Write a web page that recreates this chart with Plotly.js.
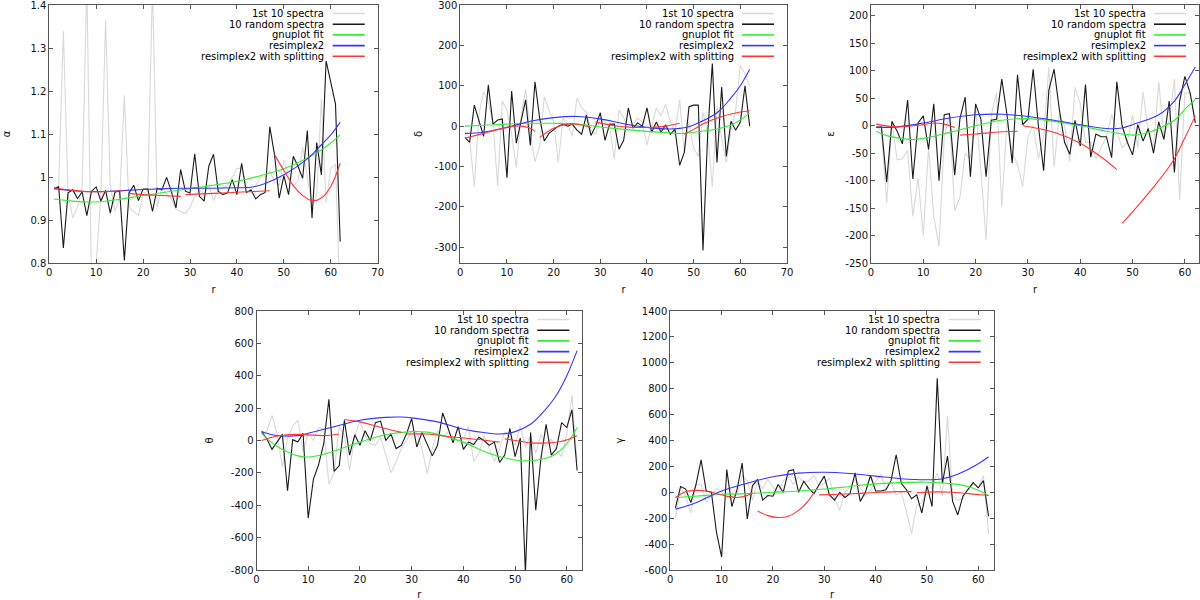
<!DOCTYPE html>
<html>
<head>
<meta charset="utf-8">
<script src="https://cdn.plot.ly/plotly-3.0.1.min.js"></script>
<style>html,body{margin:0;padding:0;background:#fff;}#chart{width:1200px;height:600px;}</style>
</head>
<body>
<div id="chart"></div>
<script>
// ---------------- data ----------------
const R = [1,2,3,4,5,6,7,8,9,10,11,12,13,14,15,16,17,18,19,20,21,22,23,24,25,26,27,28,29,30,31,32,33,34,35,36,37,38,39,40,41,42,43,44,45,46,47,48,49,50,51,52,53,54,55,56,57,58,59,60,61,62];
const legendLabels = ['1st 10 spectra', '10 random spectra', 'gnuplot fit', 'resimplex2', 'resimplex2 with splitting'];
const yTitles = ['α', 'δ', 'ε', 'θ', 'γ'];
const xTitle = 'r';

// alpha
const alphaFirst = [0.97,0.98,1.34,0.96,0.905,0.93,0.975,1.45,0.75,0.80,0.96,1.365,0.98,0.92,0.95,1.19,0.93,0.92,0.91,0.96,0.97,1.45,0.93,0.975,0.96,0.95,0.925,0.92,0.915,0.93,0.955,0.97,0.96,0.98,0.945,0.97,0.975,0.98,1.0,1.02,1.02,0.98,0.97,0.98,1.0,1.0,1.015,0.99,0.98,1.04,1.0,0.98,0.99,1.07,1.0,0.93,0.96,1.18,0.94,1.02,1.03,0.70];
const alphaRandom = [0.973,0.977,0.835,0.963,0.970,0.950,0.965,0.910,0.967,0.977,0.944,0.969,0.916,0.965,0.967,0.806,0.963,0.981,0.945,0.972,0.972,0.920,0.974,0.970,0.999,0.967,0.928,1.017,0.967,0.963,1.054,0.955,0.944,1.025,1.053,0.967,0.959,0.963,0.994,0.959,1.032,0.964,0.970,0.949,0.959,0.964,1.117,1.052,0.951,1.003,0.959,1.048,1.025,0.997,1.108,0.905,1.080,1.005,1.270,1.220,1.170,0.850];
const alphaFitR = [1,5,10,15,20,25,30,35,40,45,50,55,58,60,62];
const alphaFit = [0.949,0.944,0.942,0.948,0.957,0.965,0.973,0.981,0.990,1.003,1.019,1.044,1.063,1.079,1.098];
const alphaBlueR = [1,5,10,15,20,25,30,35,40,43,46,50,55,58,60,62];
const alphaBlue = [0.973,0.968,0.966,0.968,0.971,0.973,0.974,0.974,0.975,0.976,0.985,1.005,1.042,1.075,1.098,1.127];
const alphaRedR = [1,4,8,12,16,null,17,20,24,28,null,29,35,41,47,null,48,50,52,54,56,58,60,62];
const alphaRed = [0.975,0.970,0.966,0.966,0.968,null,0.962,0.959,0.957,0.955,null,0.959,0.962,0.965,0.968,null,1.052,1.015,0.980,0.957,0.945,0.951,0.978,1.032];

// delta
const deltaFirst = [-20,-30,-150,30,85,60,10,-148,62,40,-20,-103,20,92,-20,-88,-50,73,40,10,-90,20,5,-25,70,45,35,-10,-20,20,10,0,-82,40,20,0,5,20,10,-47,0,45,25,55,10,-15,65,-65,10,-55,-75,35,-20,-150,50,-30,-90,-10,40,150,130,100];
const deltaRandom = [-28,-40,52,15,-25,102,5,15,18,-128,87,-42,15,65,-48,110,20,-37,-18,-10,0,5,0,5,-10,-20,27,-23,0,33,-35,5,5,-57,-35,45,-5,8,0,45,-15,10,-15,3,-20,-8,-97,-65,48,52,52,-308,-20,155,-90,97,-75,12,-10,10,100,0];
const deltaFitR = [1,5,10,15,20,25,30,35,40,45,48,50,55,58,60,62];
const deltaFit = [0,2,5,7,7,5,-2,-8,-13,-17,-18,-15,-7,3,15,33];
const deltaBlueR = [1,5,10,15,20,25,30,35,40,45,48,50,55,58,60,62];
const deltaBlue = [-18,-15,-3,12,21,24,18,6,-3,-7,-4,3,33,70,100,140];
const deltaRedR = [1,5,10,13,15,16,null,17,20,23,26,28,null,29,33,37,41,44,47,null,48,50,52,55,58,60,62];
const deltaRed = [-30,-18,-3,0,-5,-13,null,-28,-5,5,3,-4,null,10,1,-3,-3,0,7,null,-20,-8,5,20,30,35,38];

// epsilon
const epsFirst = [0,-10,-140,5,-62,-60,-45,-165,-95,-200,-40,-165,-220,-20,20,-155,-130,-50,-60,30,-80,-208,20,60,-148,10,-50,-70,-110,-20,0,-60,-20,107,-75,20,0,-65,70,40,-30,-30,-60,-40,-20,20,-10,-40,-30,20,-40,62,-10,-40,80,-20,10,85,-135,60,60,10];
const epsRandom = [-3,-2,-103,8,-10,-33,47,-97,5,18,-43,40,-100,20,22,-90,13,52,-93,40,12,-93,10,12,85,20,-68,93,2,12,103,0,-82,65,103,30,-30,-52,10,-37,75,-57,-15,-20,-20,-58,80,0,-30,-53,2,-28,-5,-50,7,-25,45,-85,45,90,60,5];
const epsFitR = [1,3,5,8,10,15,20,25,30,35,40,45,50,52,55,58,60,62];
const epsFit = [-10,-18,-22,-25,-23,-12,0,10,13,8,0,-10,-17,-15,-5,10,30,48];
const epsBlueR = [1,5,10,15,20,25,30,35,40,45,48,50,55,58,60,62];
const epsBlue = [-3,-2,5,14,20,21,17,10,2,-5,-4,2,20,45,75,107];
const epsRedR = [1,5,10,12,14,16,null,17,20,25,28,null,29,32,35,40,44,47,null,48,51,55,58,60,62];
const epsRed = [3,-2,2,5,3,-3,null,-17,-15,-11,-10,null,0,-5,-12,-32,-57,-80,null,-178,-146,-100,-60,-22,18];

// theta
const thetaFirst = [40,60,155,40,-165,10,90,125,-70,45,0,80,70,-270,-200,90,30,-185,30,120,30,-20,-30,20,-90,-200,-130,-50,0,60,50,-50,-205,-50,60,20,50,20,0,10,90,-130,-80,30,-50,-130,-50,50,20,-30,90,-40,30,-80,40,-40,10,-60,-100,40,280,-130];
const thetaRandom = [55,10,-55,-10,38,-310,5,-10,45,-480,-240,-150,-20,255,-190,-155,125,-90,35,-30,60,0,110,120,0,40,-50,-30,40,135,-40,50,-20,-95,-30,170,80,-15,85,-55,-10,-25,20,0,-30,-10,-135,-90,75,-100,15,-820,50,-430,-110,100,-90,-50,110,80,190,-185];
const thetaFitR = [1,3,5,8,10,13,16,20,25,30,33,36,40,45,50,53,56,58,60,62];
const thetaFit = [45,-15,-55,-95,-102,-85,-55,-10,35,55,52,30,-10,-80,-120,-125,-110,-80,-20,80];
const thetaBlueR = [1,3,5,8,10,15,20,25,28,30,35,40,45,47,50,53,55,58,60,62];
const thetaBlue = [55,35,28,30,45,85,125,143,145,140,115,70,45,40,55,100,160,280,400,555];
const thetaRedR = [1,3,5,8,10,13,16,null,17,20,23,26,28,null,29,33,37,40,44,47,null,48,50,53,56,59,62];
const thetaRed = [0,20,32,38,35,30,40,null,130,115,90,65,50,null,40,40,25,15,2,-10,null,10,0,-15,-15,-5,30];

// gamma
const gammaFirst = [-200,40,-30,-160,60,60,-80,-20,30,0,-40,-30,-20,130,90,-60,80,30,100,40,0,90,120,60,120,80,90,130,50,70,110,-50,-140,0,40,100,30,-30,20,80,140,20,80,-20,0,-150,-320,-100,-80,40,30,150,-30,590,-30,-60,-50,20,60,40,130,-320];
const gammaRandom = [-120,45,25,-80,60,250,10,0,-310,-500,175,-110,20,225,-205,50,100,-60,-25,-30,60,0,165,175,0,85,30,-10,60,125,-20,-60,0,-40,-10,150,-70,0,130,10,10,20,90,290,70,20,-50,-20,-160,50,-110,880,70,280,-70,-175,-30,20,75,35,90,-185];
const gammaFitR = [1,5,10,15,20,25,30,35,40,45,50,55,58,60,62];
const gammaFit = [-40,-30,-15,-10,0,10,25,45,65,75,78,65,45,15,-25];
const gammaBlueR = [1,5,10,15,20,25,30,35,40,45,50,53,56,60,62];
const gammaBlue = [-130,-80,10,70,120,148,155,145,125,105,97,105,140,220,275];
const gammaRedR = [1,3,5,7,9,11,13,15,16,null,17,19,21,23,25,27,28,null,29,33,37,41,44,47,null,48,52,55,58,62];
const gammaRed = [-40,5,15,10,-10,-30,-40,-25,0,null,-145,-180,-195,-185,-140,-60,0,null,-20,-15,-8,0,5,5,null,-3,3,0,-10,-25];

// ---------------- layout / style ----------------
const panels = [
  {px: [49.3, 377.7], py: [5, 263],   xr: [0, 70],   yr: [0.8, 1.4], ytv: [0.8,0.9,1,1.1,1.2,1.3,1.4], ytt: ['0.8','0.9','1','1.1','1.2','1.3','1.4'], xtv: [0,10,20,30,40,50,60,70], ysd: 17,
   d: [alphaFirst, alphaRandom, [alphaFitR, alphaFit], [alphaBlueR, alphaBlue], [alphaRedR, alphaRed]]},
  {px: [460.3, 787], py: [5, 263],    xr: [0, 70],   yr: [-339, 300], ytv: [-300,-200,-100,0,100,200,300], ytt: ['-300','-200','-100','0','100','200','300'], xtv: [0,10,20,30,40,50,60,70], ysd: 10,
   d: [deltaFirst, deltaRandom, [deltaFitR, deltaFit], [deltaBlueR, deltaBlue], [deltaRedR, deltaRed]]},
  {px: [871, 1199], py: [5, 263],     xr: [0, 62.7], yr: [-250, 220], ytv: [-250,-200,-150,-100,-50,0,50,100,150,200], ytt: ['-250','-200','-150','-100','-50','0','50','100','150','200'], xtv: [0,10,20,30,40,50,60], ysd: 8,
   d: [epsFirst, epsRandom, [epsFitR, epsFit], [epsBlueR, epsBlue], [epsRedR, epsRed]]},
  {px: [256.5, 582.3], py: [311, 570], xr: [0, 63],  yr: [-800, 800], ytv: [-800,-600,-400,-200,0,200,400,600,800], ytt: ['-800','-600','-400','-200','0','200','400','600','800'], xtv: [0,10,20,30,40,50,60], ysd: 15,
   d: [thetaFirst, thetaRandom, [thetaFitR, thetaFit], [thetaBlueR, thetaBlue], [thetaRedR, thetaRed]]},
  {px: [670.3, 993.7], py: [311, 570], xr: [0, 63],  yr: [-600, 1400], ytv: [-600,-400,-200,0,200,400,600,800,1000,1200,1400], ytt: ['-600','-400','-200','0','200','400','600','800','1000','1200','1400'], xtv: [0,10,20,30,40,50,60], ysd: 16,
   d: [gammaFirst, gammaRandom, [gammaFitR, gammaFit], [gammaBlueR, gammaBlue], [gammaRedR, gammaRed]]}
];
const colors = ['#d9d9d9', '#1a1a1a', '#33ee33', '#3535ff', '#ff3535'];
const W = 1200, H = 600;
const FONT = 'DejaVu Sans, sans-serif';

const traces = [];
const layout = {
  width: W, height: H, margin: {l: 0, r: 0, t: 0, b: 0},
  paper_bgcolor: '#fff', plot_bgcolor: '#fff', showlegend: false,
  font: {family: FONT, size: 10, color: '#000'},
  annotations: [], shapes: []
};

panels.forEach((p, i) => {
  const n = i === 0 ? '' : String(i + 1);
  const xa = 'x' + n, ya = 'y' + n;
  p.d.forEach((s, k) => {
    let xs, ys;
    if (k < 2) { xs = R; ys = s; } else { xs = s[0]; ys = s[1]; }
    traces.push({
      x: xs, y: ys, xaxis: xa, yaxis: ya, type: 'scatter', mode: 'lines',
      name: legendLabels[k], connectgaps: false, hoverinfo: 'skip',
      line: {color: colors[k], width: 1.1, shape: k < 2 ? 'linear' : 'spline', smoothing: 1}
    });
  });
  const axCommon = {
    showgrid: false, zeroline: false, showline: true, linecolor: '#555', linewidth: 1,
    mirror: 'ticks', ticks: 'inside', ticklen: 4, tickcolor: '#555',
    ticklabeloverflow: 'allow',
    tickfont: {family: FONT, size: 10, color: '#111'}, fixedrange: true
  };
  layout['xaxis' + n] = Object.assign({}, axCommon, {
    domain: [p.px[0] / W, p.px[1] / W], anchor: ya, range: p.xr,
    tickmode: 'array', tickvals: p.xtv, ticktext: p.xtv.map(String),
    title: {text: xTitle, font: {family: FONT, size: 10, color: '#111'}, standoff: 8}
  });
  layout['yaxis' + n] = Object.assign({}, axCommon, {
    domain: [1 - p.py[1] / H, 1 - p.py[0] / H], anchor: xa, range: p.yr,
    tickmode: 'array', tickvals: p.ytv, ticktext: p.ytt,
    title: {text: yTitles[i], font: {family: FONT, size: 10, color: '#111'}, standoff: p.ysd}
  });
  // gnuplot-style key: right-aligned text, sample line on the right
  legendLabels.forEach((lab, k) => {
    const yPx = p.py[0] + 8.5 + 10.7 * k;
    const xr = p.px[1];
    layout.annotations.push({
      xref: 'paper', yref: 'paper', x: (xr - 51.5) / W, y: 1 - yPx / H,
      xanchor: 'right', yanchor: 'middle', showarrow: false, text: lab,
      font: {family: FONT, size: 10, color: '#000'}
    });
    layout.shapes.push({
      type: 'line', xref: 'paper', yref: 'paper',
      x0: (xr - 45) / W, x1: (xr - 13) / W, y0: 1 - yPx / H, y1: 1 - yPx / H,
      line: {color: colors[k], width: 1.6}
    });
  });
});

Plotly.newPlot('chart', traces, layout, {staticPlot: true, displayModeBar: false});
</script>
</body>
</html>
